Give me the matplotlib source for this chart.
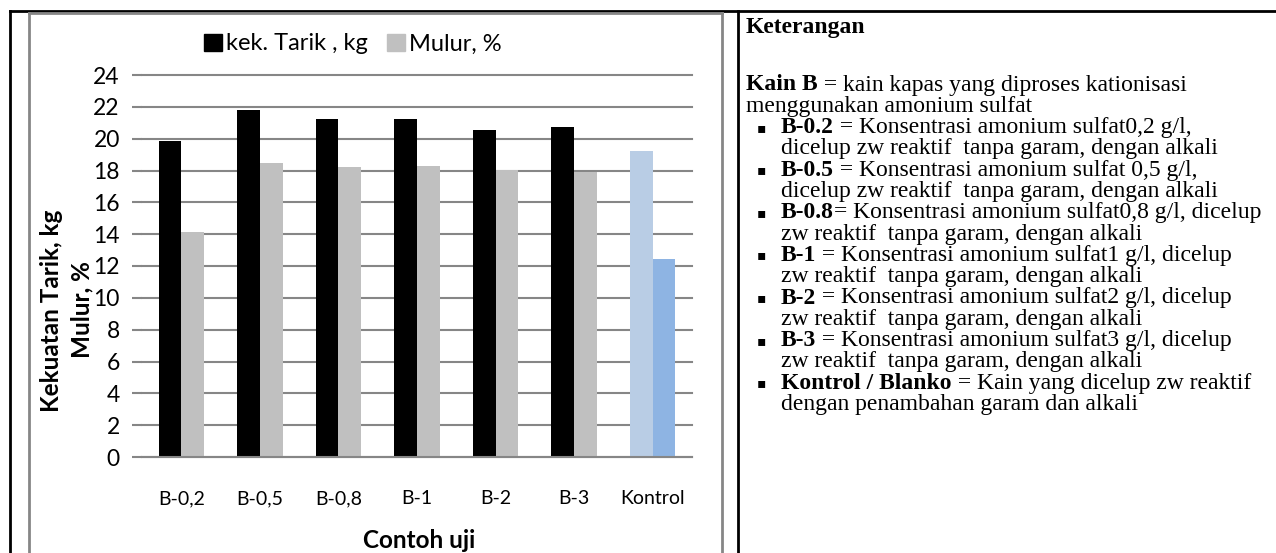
#!/usr/bin/env python3

import numpy as np
import matplotlib
matplotlib.use('Agg')
import matplotlib.pyplot as plt
from matplotlib.lines import Line2D

# data
categories = ['B-0,2', 'B-0,5', 'B-0,8', 'B-1', 'B-2', 'B-3', 'Kontrol']
kek_tarik = [19.85, 21.8, 21.25, 21.22, 20.55, 20.75, 19.25]
mulur = [14.15, 18.48, 18.23, 18.3, 18.05, 17.93, 12.45]
legend_labels = ['kek. Tarik , kg', 'Mulur, %']
y_ticks = list(range(0, 25, 2))

# keterangan panel: (bullet?, [(text, bold), ...])
notes = [
    (False, [('Kain B', True), (' = kain kapas yang diproses kationisasi', False)]),
    (False, [('menggunakan amonium sulfat', False)]),
    (True, [('B-0.2', True), (' = Konsentrasi amonium sulfat0,2 g/l,', False)]),
    (False, [('dicelup zw reaktif  tanpa garam, dengan alkali', False)]),
    (True, [('B-0.5', True), (' = Konsentrasi amonium sulfat 0,5 g/l,', False)]),
    (False, [('dicelup zw reaktif  tanpa garam, dengan alkali', False)]),
    (True, [('B-0.8', True), ('= Konsentrasi amonium sulfat0,8 g/l, dicelup', False)]),
    (False, [('zw reaktif  tanpa garam, dengan alkali', False)]),
    (True, [('B-1', True), (' = Konsentrasi amonium sulfat1 g/l, dicelup', False)]),
    (False, [('zw reaktif  tanpa garam, dengan alkali', False)]),
    (True, [('B-2', True), (' = Konsentrasi amonium sulfat2 g/l, dicelup', False)]),
    (False, [('zw reaktif  tanpa garam, dengan alkali', False)]),
    (True, [('B-3', True), (' = Konsentrasi amonium sulfat3 g/l, dicelup', False)]),
    (False, [('zw reaktif  tanpa garam, dengan alkali', False)]),
    (True, [('Kontrol / Blanko', True), (' = Kain yang dicelup zw reaktif', False)]),
    (False, [('dengan penambahan garam dan alkali', False)]),
]

W, H = 1276, 553
SANS = ['Lato', 'DejaVu Sans']
SERIF = ['Liberation Serif', 'DejaVu Serif']
GRID = '#868686'
NOTE_SIZE = 17


def px(x, y):
    """pixel (from top-left) -> figure fraction"""
    return x / W, 1 - y / H


def draw_frame(fig):
    """garis tabel dan bingkai chart"""
    black = dict(color='black', linewidth=2, transform=fig.transFigure)
    fig.add_artist(Line2D([10 / W, 1], [1 - 11 / H] * 2, **black))
    fig.add_artist(Line2D([10 / W] * 2, [0, 1 - 11 / H], **black))
    fig.add_artist(Line2D([738 / W] * 2, [0, 1 - 11 / H], **black))

    gray = dict(color=GRID, linewidth=2, transform=fig.transFigure)
    fig.add_artist(Line2D([29 / W, 722 / W], [1 - 13 / H] * 2, **gray))
    fig.add_artist(Line2D([29 / W] * 2, [0, 1 - 13 / H], **gray))
    fig.add_artist(Line2D([722 / W] * 2, [0, 1 - 13 / H], **gray))


def draw_chart(fig):
    ax = fig.add_axes([142 / W, 1 - 457 / H, (692 - 142) / W, (457 - 75) / H])
    x = np.arange(len(categories))
    w = 0.289

    c1 = ['black'] * (len(categories) - 1) + ['#B9CDE5']
    c2 = ['#C0C0C0'] * (len(categories) - 1) + ['#8EB4E3']
    ax.bar(x - w / 2, kek_tarik, w, color=c1, zorder=3)
    ax.bar(x + w / 2, mulur, w, color=c2, zorder=3)

    ax.set_xlim(-0.5, len(categories) - 0.5)
    ax.set_ylim(0, 24)
    ax.set_yticks(y_ticks)
    ax.set_yticklabels([str(v) for v in y_ticks], family=SANS, fontsize=16.5)
    ax.set_xticks(x)
    ax.set_xticklabels(categories, family=SANS, fontsize=14)
    ax.tick_params(axis='y', length=7, width=1.5, color=GRID, pad=9)
    ax.tick_params(axis='x', length=0, pad=24)
    ax.grid(axis='y', color=GRID, linewidth=1.5, zorder=0)
    for line in ax.get_ygridlines():
        line.set_clip_on(False)
    for s in ['top', 'right', 'left']:
        ax.spines[s].set_visible(False)
    ax.spines['bottom'].set_color(GRID)
    ax.spines['bottom'].set_linewidth(1.5)
    ax.spines['bottom'].set_zorder(4)

    handles = [plt.Rectangle((0, 0), 1, 1, color='black'),
               plt.Rectangle((0, 0), 1, 1, color='#C0C0C0')]
    fig.legend(handles, legend_labels, loc='center', bbox_to_anchor=px(353, 44),
               ncol=2, frameon=False, prop={'family': SANS, 'size': 17},
               handlelength=0.75, handleheight=0.75, handletextpad=0.2,
               columnspacing=0.8, borderpad=0)

    fig.text(*px(52, 311), 'Kekuatan Tarik, kg', rotation=90, ha='center',
             va='center', family=SANS, fontsize=17.5, fontweight='bold')
    fig.text(*px(82, 310), 'Mulur, %', rotation=90, ha='center',
             va='center', family=SANS, fontsize=17.5, fontweight='bold')
    fig.text(*px(419, 541), 'Contoh uji', ha='center', va='center',
             family=SANS, fontsize=17.5, fontweight='bold')


def draw_notes(fig):
    renderer = fig.canvas.get_renderer()
    fig.text(*px(746, 28), 'Keterangan', va='center', family=SERIF,
             fontsize=NOTE_SIZE, fontweight='bold')
    y0, step = 85, 21.3
    for i, (bullet, segs) in enumerate(notes):
        y = y0 + i * step
        if bullet:
            fig.text(*px(757, y), '\u25aa', va='center', family=['DejaVu Sans'],
                     fontsize=10)
        xpos = 781 if i >= 2 else 746
        for text, bold in segs:
            t = fig.text(*px(xpos, y), text, va='center', family=SERIF,
                         fontsize=NOTE_SIZE, fontweight='bold' if bold else 'normal')
            xpos += t.get_window_extent(renderer).width


def main():
    fig = plt.figure(figsize=(W / 100, H / 100), dpi=100)
    draw_frame(fig)
    draw_chart(fig)
    draw_notes(fig)
    fig.savefig('out.png', dpi=100)
    plt.close(fig)


if __name__ == '__main__':
    main()
